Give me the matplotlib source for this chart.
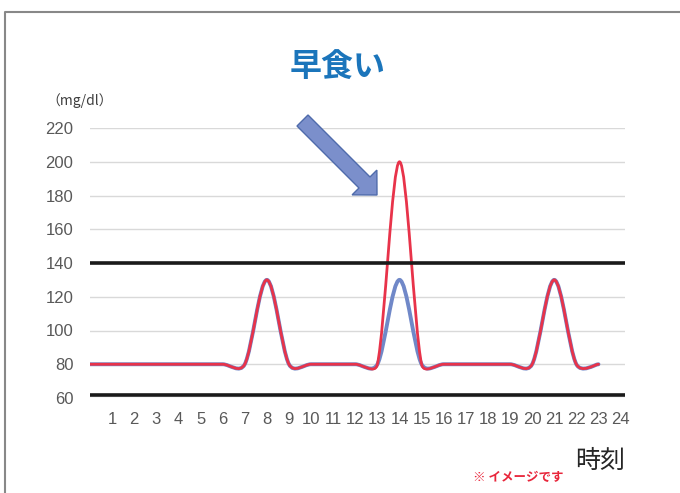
import numpy as np
import matplotlib
matplotlib.use('Agg')
import matplotlib.pyplot as plt
from matplotlib.path import Path
from matplotlib.patches import PathPatch, FancyArrow
from matplotlib.lines import Line2D

# data (hourly glucose image, mg/dl)
hours = [0, 1, 2, 3, 4, 5, 6, 7, 8, 9, 10, 11, 12, 13, 14, 15, 16, 17, 18, 19, 20, 21, 22, 23]
normal = [80, 80, 80, 80, 80, 80, 80, 80, 130, 80, 80, 80, 80, 80, 130, 80, 80, 80, 80, 80, 80, 130, 80, 80]
fast_eat = [80, 80, 80, 80, 80, 80, 80, 80, 130, 80, 80, 80, 80, 80, 200, 80, 80, 80, 80, 80, 80, 130, 80, 80]
xticks = list(range(1, 25))
yticks = [60, 80, 100, 120, 140, 160, 180, 200, 220]
upper_ref = 140
lower_ref = 62

jp = ['Noto Sans CJK JP', 'DejaVu Sans']
num = ['Liberation Sans', 'DejaVu Sans']


def smooth_path(ax, xs, ys):
    # excel-like smoothed line (bezier through the points)
    pts = ax.transData.transform(np.column_stack([xs, ys]))
    n = len(pts)
    verts = [pts[0]]
    codes = [Path.MOVETO]
    for i in range(n - 1):
        p0 = pts[i - 1] if i > 0 else pts[i]
        p1 = pts[i]
        p2 = pts[i + 1]
        p3 = pts[i + 2] if i + 2 < n else pts[i + 1]
        d12 = np.hypot(*(p2 - p1))
        d02 = np.hypot(*(p2 - p0))
        d13 = np.hypot(*(p3 - p1))
        f1 = 1 / 6
        f2 = 1 / 6
        if d02 > 0 and d02 / 6 >= d12 / 2:
            f1 = d12 / (2 * d02)
        if d13 > 0 and d13 / 6 >= d12 / 2:
            f2 = d12 / (2 * d13)
        c1 = p1 + (p2 - p0) * f1
        c2 = p2 - (p3 - p1) * f2
        verts += [c1, c2, p2]
        codes += [Path.CURVE4] * 3
    verts = ax.transData.inverted().transform(np.array(verts))
    return Path(verts, codes)


fig = plt.figure(figsize=(6.8, 4.93), dpi=100)
ax = fig.add_axes([90 / 680, 1 - 398 / 493, 535 / 680, 270 / 493])
ax.set_xlim(0, 24.2)
ax.set_ylim(60, 220)

ax.set_yticks(yticks)
ax.set_xticks(xticks)
ax.set_xticklabels([str(t) for t in xticks], family=num, fontsize=12, color='#595959')
ax.set_yticklabels([str(t) for t in yticks], family=num, fontsize=12, color='#595959')
ax.tick_params(axis='both', length=0)
ax.tick_params(axis='x', pad=10)
ax.tick_params(axis='y', pad=12)
ax.yaxis.grid(True, color='#d9d9d9', lw=1)
ax.set_axisbelow(True)
for s in ax.spines.values():
    s.set_visible(False)

ax.axhline(upper_ref, color='#1a1a1a', lw=2.6)
ax.axhline(lower_ref, color='#1a1a1a', lw=2.6)

ax.add_patch(PathPatch(smooth_path(ax, hours, normal), fill=False,
                       edgecolor='#7088c8', lw=2.8, capstyle='round', joinstyle='round'))
ax.add_patch(PathPatch(smooth_path(ax, hours, fast_eat), fill=False,
                       edgecolor='#e8334a', lw=2.0, capstyle='round', joinstyle='round'))

# arrow pointing at the peak
arr = FancyArrow(3.025, (493 - 120.5) / 100, 0.745, -0.745, width=0.156,
                 head_width=0.35, head_length=0.177, length_includes_head=True,
                 transform=fig.dpi_scale_trans, facecolor='#7b8fcb',
                 edgecolor='#4f6bab', lw=1)
fig.patches.append(arr)

fig.text(338 / 680, 1 - 68 / 493, '早食い', ha='center', va='center',
         fontsize=23, fontweight='bold', color='#1b75bb', family=jp)
fig.text(80 / 680, 1 - 101 / 493, '（mg/dl）', ha='center', va='center',
         fontsize=10, color='#404040', family=jp)
fig.text(600 / 680, 1 - 461 / 493, '時刻', ha='center', va='center',
         fontsize=18, color='#262626', family=jp)
fig.text(518 / 680, 1 - 478 / 493, '※ イメージです', ha='center', va='center',
         fontsize=9, fontweight='bold', color='#e8263b', family=jp)

# outer frame
fig.lines.append(Line2D([5 / 680, 5 / 680, 1], [0, 1 - 12 / 493, 1 - 12 / 493],
                        transform=fig.transFigure, color='#888888', lw=1.5))

fig.savefig('out.png', dpi=100)
